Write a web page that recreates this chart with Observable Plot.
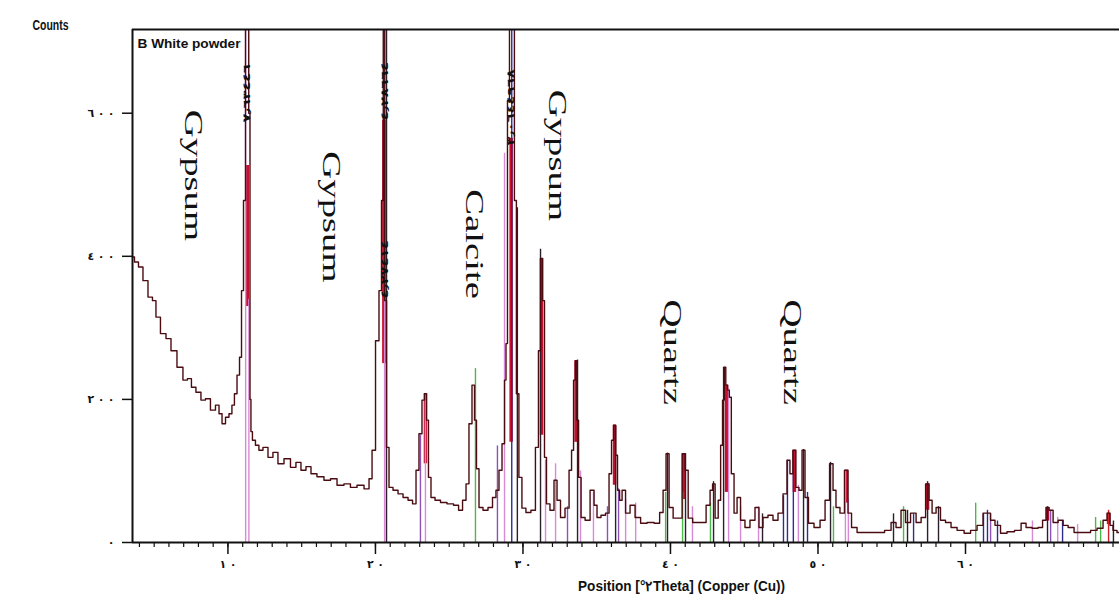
<!DOCTYPE html>
<html><head><meta charset="utf-8">
<script src="https://cdn.jsdelivr.net/npm/d3@7"></script>
<script src="https://cdn.jsdelivr.net/npm/@observablehq/plot@0.6"></script>
<style>body{margin:0;background:#fff} #chart svg{display:block}</style>
</head><body><div id="chart"></div>
<script>
// XRD pattern: [2theta (deg), counts]
const spectrum = [
[3.53,399],[3.80,392],[4.07,385],[4.41,366],[4.75,343],[5.02,338],[5.22,315],[5.63,292],[5.97,285],[6.31,268],
[6.78,245],[7.12,227],[7.39,229],[7.66,217],[8.00,210],[8.34,199],[8.61,201],[9.02,185],[9.29,192],[9.50,180],
[9.70,166],[9.97,175],[10.17,180],[10.37,192],[10.51,208],[10.72,234],[10.85,259],[10.99,352],[11.12,478],[11.26,1400],
[11.36,1500],[11.46,600],[11.53,200],[11.59,155],[11.73,143],[12.00,136],[12.20,129],[12.55,133],[12.88,119],[13.22,126],
[13.56,110],[14.04,117],[14.44,105],[14.78,112],[15.12,101],[15.46,106],[15.80,96],[16.27,92],[16.75,87],[17.16,89],
[17.63,80],[18.10,82],[18.51,77],[18.99,80],[19.46,75],[19.67,89],[19.87,129],[20.14,282],[20.34,352],[20.48,478],
[20.58,1300],[20.68,338],[20.82,133],[21.02,77],[21.36,73],[21.70,68],[22.04,63],[22.38,59],[22.65,54],[22.85,101],
[23.05,152],[23.26,199],[23.39,208],[23.53,171],[23.66,91],[23.87,63],[24.21,59],[24.61,56],[25.09,54],[25.50,52],
[25.77,45],[26.04,59],[26.24,82],[26.44,166],[26.65,220],[26.78,171],[26.92,103],[27.12,49],[27.46,45],[27.80,49],
[28.07,63],[28.27,73],[28.48,101],[28.68,138],[28.82,227],[28.88,278],[29.02,618],[29.15,1600],[29.35,1600],[29.49,478],
[29.62,208],[29.83,91],[30.03,48],[30.37,42],[30.71,45],[30.98,133],[31.12,268],[31.26,397],[31.39,338],[31.53,119],
[31.66,54],[32.00,45],[32.21,87],[32.41,59],[32.68,35],[33.02,48],[33.23,101],[33.36,129],[33.50,227],[33.60,254],
[33.70,171],[33.84,91],[34.04,35],[34.38,31],[34.72,73],[34.92,52],[35.12,35],[35.46,38],[35.73,41],[35.94,96],
[36.07,143],[36.21,164],[36.34,122],[36.48,73],[36.62,59],[36.82,73],[37.09,41],[37.43,52],[37.77,35],[38.18,27],
[38.65,28],[39.13,27],[39.40,42],[39.60,73],[39.80,124],[40.01,49],[40.35,34],[40.69,34],[40.89,124],[41.10,101],
[41.30,34],[41.71,28],[42.25,28],[42.58,52],[42.79,73],[42.92,82],[43.13,34],[43.34,59],[43.46,136],[43.60,199],
[43.70,245],[43.80,220],[43.94,213],[44.04,203],[44.21,96],[44.41,41],[44.62,63],[44.88,31],[45.22,21],[45.56,31],
[45.90,49],[46.10,21],[46.44,35],[46.78,38],[47.12,31],[47.46,41],[47.80,68],[48.00,115],[48.20,96],[48.40,129],
[48.60,77],[48.82,73],[49.02,129],[49.22,63],[49.49,27],[49.97,21],[50.31,31],[50.65,59],[50.92,110],[51.12,73],
[51.32,49],[51.66,41],[51.93,101],[52.14,41],[52.41,21],[52.89,14],[53.57,14],[54.24,14],[54.79,17],[55.12,28],
[55.46,21],[55.80,45],[56.07,28],[56.48,41],[56.82,28],[57.16,35],[57.43,82],[57.63,59],[57.84,41],[58.17,49],
[58.44,31],[58.85,28],[59.19,21],[59.67,17],[60.14,13],[60.55,17],[61.02,24],[61.36,41],[61.56,41],[61.83,31],
[62.17,24],[62.58,13],[63.05,15],[63.60,17],[63.94,27],[64.27,21],[64.75,20],[65.09,21],[65.36,31],[65.56,49],
[65.77,45],[66.11,28],[66.45,31],[66.79,24],[67.12,21],[67.60,14],[68.28,14],[68.68,17],[69.16,20],[69.49,31],
[69.70,41],[69.90,24],[70.10,17],[70.44,14]
];

// reference pattern sticks: [2theta, top counts, phase code]
const sticks = [
[11.20,1500,"G"],[11.42,340,"G"],[20.62,350,"G"],[20.75,1500,"K"],
[23.05,150,"P"],[23.39,208,"G"],[26.78,243,"N"],[28.27,135,"P"],
[28.75,544,"G"],[29.24,1500,"B"],[29.62,468,"K"],[31.19,410,"K"],
[31.53,115,"G"],[32.21,110,"G"],[33.02,50,"P"],[33.70,255,"K"],
[33.90,100,"G"],[34.78,70,"G"],[35.73,50,"P"],[36.28,163,"K"],
[36.48,75,"P"],[36.96,60,"G"],[37.64,55,"G"],[39.67,70,"N"],
[39.80,125,"K"],[40.82,70,"N"],[41.02,124,"K"],[41.49,50,"G"],
[42.71,55,"N"],[42.92,85,"K"],[43.60,245,"K"],[43.94,215,"G"],
[44.75,50,"G"],[45.97,50,"G"],[46.24,40,"K"],[47.66,65,"B"],
[47.93,115,"B"],[48.33,128,"B"],[48.67,80,"G"],[49.02,130,"K"],
[49.29,70,"B"],[50.85,112,"K"],[51.05,50,"N"],[51.86,100,"G"],
[52.06,60,"G"],[55.12,40,"K"],[55.80,50,"N"],[56.07,45,"K"],
[56.48,40,"B"],[57.43,85,"K"],[58.17,50,"K"],[60.69,55,"N"],
[61.22,40,"B"],[61.49,45,"B"],[61.70,40,"P"],[62.17,30,"B"],
[64.54,30,"G"],[65.56,50,"K"],[65.77,45,"P"],[66.25,35,"G"],
[66.58,30,"B"],[67.60,25,"G"],[68.82,35,"N"],[69.16,30,"N"],
[69.70,45,"R"],[70.03,30,"K"]
];

// highlighted peak bars: [2theta, from counts, to counts]
const peakBars = [
[11.31,330,527],[20.57,250,590],[29.20,140,565],[31.26,150,397],
[33.60,140,254],[23.39,110,208],[36.21,80,164],[40.89,60,124],
[43.80,70,220],[48.40,70,129],[51.93,55,101],[57.43,45,82],
[65.56,30,49],[69.70,25,41]
];

const minerals = ["Gypsum","Gypsum","Calcite","Gypsum","Quartz","Quartz"];
const mineralX = [7.66,17.02,26.65,32.34,40.07,48.21];
const mineralY = [513,455,417,541,266,266];

const dLabels = ["٧٫٦٣٤٤٦","٤٫٢٨٦٦٤","٤٫٢٧٤١٤","٣٫٠٦٤٤٩٦٨"];
const dLabelX = [11.31,20.62,20.62,29.20];
const dLabelY = [587,590,341,555];

const xTicks = [10,20,30,40,50,60];
const xTickLabels = ["١٠","٢٠","٣٠","٤٠","٥٠","٦٠"];
const xMinorTicks = d3.range(4,71);
const yTicks = [0,200,400,600];
const yTickLabels = ["٠","٢٠٠","٤٠٠","٦٠٠"];
const xDomain = [3.53,70.44];
const yDomain = [0,717];

const yTitle = "Counts";
const sampleName = "B White powder";
const xTitle = "Position [°٢Theta] (Copper (Cu))";
const xTitleAt = 40.75;

const phaseColor = {G:"#d98ad6",K:"#2a1f2a",N:"#4cb848",B:"#2d2d8f",P:"#8c52b8",R:"#d0202a"};

const chart = Plot.plot({
  width:1119, height:610,
  marginLeft:132, marginRight:0, marginTop:29, marginBottom:68,
  x:{domain:xDomain},
  y:{domain:yDomain},
  style:{fontFamily:"DejaVu Sans", background:"#fff", color:"#111"},
  marks:[
    Plot.ruleX(peakBars,{x:d=>d[0], y1:d=>d[1], y2:d=>d[2], stroke:"#c8102e", strokeWidth:3.5, clip:true}),
    Plot.ruleX(sticks,{x:d=>d[0], y1:0, y2:d=>d[1], stroke:d=>phaseColor[d[2]], strokeWidth:1.4, clip:true}),
    Plot.line(spectrum,{x:d=>d[0], y:d=>d[1], curve:"step", stroke:"#4a0c10", strokeWidth:1.4, clip:true}),
    Plot.axisY(yTicks,{tickFormat:d=>yTickLabels[yTicks.indexOf(d)], tickSize:10, tickPadding:8, label:null, fontSize:11, fontWeight:"bold", strokeWidth:1.5}),
    Plot.axisX(xMinorTicks,{tickSize:5, tickFormat:()=>"", label:null, strokeWidth:1.2}),
    Plot.axisX(xTicks,{tickFormat:d=>xTickLabels[xTicks.indexOf(d)], tickSize:12, tickPadding:6, label:null, fontSize:11, fontWeight:"bold", strokeWidth:1.5}),
    Plot.ruleY([yDomain[0]],{stroke:"#111", strokeWidth:2}),
    Plot.ruleY([yDomain[1]],{stroke:"#111", strokeWidth:2}),
    Plot.ruleX([xDomain[0]],{stroke:"#111", strokeWidth:2}),
    Plot.text(minerals,{x:(d,i)=>mineralX[i], y:(d,i)=>mineralY[i], text:d=>d, rotate:90, fontFamily:"Liberation Serif", fontSize:25, fill:"#111"}),
    Plot.text(dLabels,{x:(d,i)=>dLabelX[i], y:(d,i)=>dLabelY[i], text:d=>d, rotate:-90, textAnchor:"start", fontSize:10, fontWeight:"bold", fill:"#111"}),
    Plot.text([yTitle],{text:d=>d, frameAnchor:"top-left", dx:-82, dy:-9, textAnchor:"middle", fontFamily:"Liberation Sans", fontWeight:"bold", fontSize:14, fill:"#111"}),
    Plot.text([sampleName],{text:d=>d, frameAnchor:"top-left", dx:5, dy:9, textAnchor:"start", fontFamily:"Liberation Sans", fontWeight:"bold", fontSize:13, fill:"#111"}),
    Plot.text([xTitle],{text:d=>d, x:()=>xTitleAt, frameAnchor:"bottom", dy:48, fontFamily:"Liberation Sans", fontWeight:"bold", fontSize:14, fill:"#111"})
  ]
});

const sel = d3.select(chart);
function stretch(list, k){
  sel.selectAll("text").filter(function(){ return list.includes(this.textContent); })
    .each(function(){
      const t = this.getAttribute("transform");
      if (t) this.setAttribute("transform", t + ` scale(${k},1)`);
    });
}
stretch(minerals, 1.55);
stretch(dLabels, 1.45);
function fitLength(list, len, adjust){
  sel.selectAll("text").filter(function(){ return list.includes(this.textContent); })
    .attr("textLength", len).attr("lengthAdjust", adjust);
}
fitLength([yTitle], 36, "spacingAndGlyphs");
fitLength([sampleName], 103, "spacingAndGlyphs");
fitLength([xTitle], 207, "spacingAndGlyphs");
fitLength(xTickLabels, 17, "spacing");
fitLength(yTickLabels.slice(1), 27, "spacing");
document.getElementById("chart").append(chart);
</script>
</body></html>
